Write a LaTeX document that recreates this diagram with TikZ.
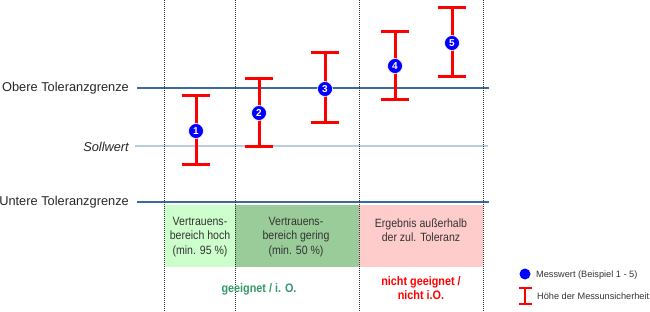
\documentclass[tikz,border=0pt]{standalone}
\usepackage{fontspec}
\setmainfont{Liberation Sans}
\newfontfamily\narrowfont[FakeStretch=0.88]{Liberation Sans}
\definecolor{tolblue}{HTML}{3A6A9E}
\definecolor{sollblue}{HTML}{B9CCE0}
\definecolor{lgreen}{HTML}{CCFFCC}
\definecolor{dgreen}{HTML}{99CC99}
\definecolor{lpink}{HTML}{FFCCCC}
\definecolor{okgreen}{HTML}{339966}
\definecolor{dotgray}{HTML}{303030}
\tikzset{
  sep/.style={draw=dotgray, line width=1pt, dash pattern=on 1pt off 1pt},
  tol/.style={draw=tolblue, line width=2pt},
  soll/.style={draw=sollblue, line width=1.5pt},
  bar/.style={draw=red, line width=3pt},
  mw/.style={circle, fill=blue, draw=white, line width=0.6pt, inner sep=0pt, minimum size=15pt, text=white, font=\bfseries\fontsize{10}{10}\selectfont},
  lbl/.style={anchor=east, font=\fontsize{12.8}{14}\selectfont, text=black!85, inner sep=0pt},
  boxtxt/.style={align=center, font=\narrowfont\fontsize{12}{14.5}\selectfont, text=black!80, inner sep=0pt},
  verdict/.style={align=center, font=\bfseries\narrowfont\fontsize{12.3}{14}\selectfont, inner sep=0pt},
  legtxt/.style={anchor=west, font=\fontsize{9.2}{10}\selectfont, text=black!80, inner sep=0pt}
}
\begin{document}
\begin{tikzpicture}[x=1pt,y=-1pt]
\useasboundingbox (0,0) rectangle (650,312);
% boxes
\fill[lgreen] (164,205) rectangle (235,267);
\fill[dgreen] (235,205) rectangle (359,267);
\fill[lpink] (359,205) rectangle (483,267);
% horizontal lines
\draw[soll] (135,146) -- (488,146);
\draw[tol] (137,88) -- (489,88);
\draw[tol] (137,202) -- (489,202);
% dotted separators
\foreach \x in {164,235,359,483} \draw[sep] (\x,0) -- (\x,312);
% labels
\node[lbl] (obere) at (129,88.5) {Obere Toleranzgrenze};
\node[lbl, font=\itshape\fontsize{12.8}{14}\selectfont] (soll) at (129,146.5) {Sollwert};
\node[lbl] (untere) at (129,202.5) {Untere Toleranzgrenze};
% error bars
\foreach \x/\t/\b in {196/96/165, 259/79/147, 325/53/123, 395/32/100, 452/8/77}{
  \draw[bar] (\x,\t) -- (\x,\b);
  \draw[bar] (\x-14,\t) -- (\x+14,\t);
  \draw[bar] (\x-14,\b) -- (\x+14,\b);
}
\node[mw] (m1) at (196,131) {1};
\node[mw] (m2) at (259,113) {2};
\node[mw] (m3) at (325,89) {3};
\node[mw] (m4) at (395,66) {4};
\node[mw] (m5) at (452,43) {5};
% box texts
\node[boxtxt] (t1) at (200,237) {Vertrauens-\\bereich hoch\\(min. 95 \%)};
\node[boxtxt] (t2) at (296,237) {Vertrauens-\\bereich gering\\(min. 50 \%)};
\node[boxtxt] (t3) at (421,230) {Ergebnis außerhalb\\der zul. Toleranz};
% verdicts
\node[verdict, text=okgreen] (ok) at (259,289) {geeignet / i. O.};
\node[verdict, text=red] (nok) at (421,288) {nicht geeignet /\\nicht i.O.};
% legend
\fill[blue] (525,274) circle (5.5pt);
\node[legtxt] (lg1) at (536,275) {Messwert (Beispiel 1 - 5)};
\draw[red, line width=1.5pt] (525,288) -- (525,304);
\draw[red, line width=1.5pt] (519,288) -- (532,288);
\draw[red, line width=1.5pt] (519,304) -- (532,304);
\node[legtxt] (lg2) at (537,296) {Höhe der Messunsicherheit};
\end{tikzpicture}
\end{document}
